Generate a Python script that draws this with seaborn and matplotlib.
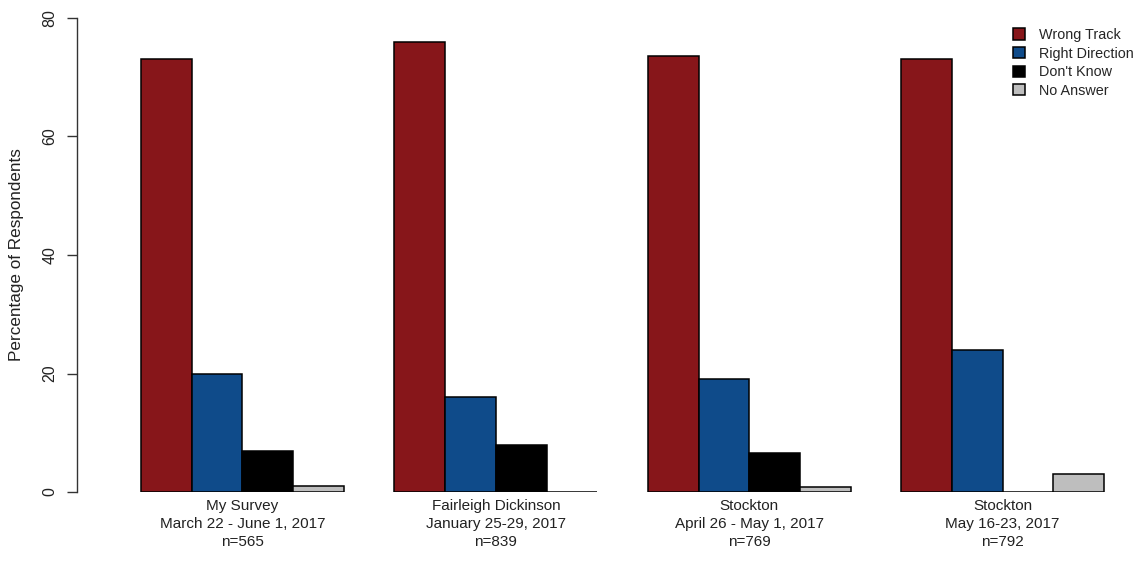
import pandas as pd
import numpy as np
import matplotlib
matplotlib.use('Agg')
import matplotlib.pyplot as plt
import seaborn as sns

# survey groups (x labels) and responses
surveys = ['My Survey\nMarch 22 - June 1, 2017\nn=565',
           'Fairleigh Dickinson\nJanuary 25-29, 2017\nn=839',
           'Stockton\nApril 26 - May 1, 2017\nn=769',
           'Stockton\nMay 16-23, 2017\nn=792']
responses = ['Wrong Track', 'Right Direction', "Don't Know", 'No Answer']

wrong_track = [73, 76, 73.6, 73]
right_direction = [20, 16, 19, 24]
dont_know = [7, 8, 6.5, 0]
no_answer = [1, 0, 0.8, 3]

colors = ['#87161A', '#0F4B8A', '#000000', '#BEBEBE']

rows = []
for i, s in enumerate(surveys):
    for r, vals in zip(responses, [wrong_track, right_direction, dont_know, no_answer]):
        rows.append({'survey': s, 'response': r, 'pct': vals[i]})
df = pd.DataFrame(rows)

sns.set_style('white')
plt.rcParams['font.family'] = ['Liberation Sans', 'DejaVu Sans']

fig = plt.figure(figsize=(11.42, 5.63), dpi=100)
ax = fig.add_axes([77 / 1142, 71 / 563, 1 - 77 / 1142, 474 / 563])

sns.barplot(data=df, x='survey', y='pct', hue='response', order=surveys,
            hue_order=responses, palette=colors, saturation=1,
            edgecolor='black', linewidth=1.1, ax=ax)

ax.set_xlim(-0.653, 3.55)
ax.set_ylim(0, 80)
for side in ['top', 'right', 'bottom']:
    ax.spines[side].set_visible(False)
ax.spines['left'].set_bounds(0, 80)
ax.spines['left'].set_color('#333333')
ax.spines['left'].set_linewidth(1)

ax.set_yticks([0, 20, 40, 60, 80])
ax.set_yticklabels(['0', '20', '40', '60', '80'], rotation=90, va='center')
ax.tick_params(axis='y', length=7, width=1, color='#333333', labelsize=11.5,
               labelcolor='#222222', pad=7, left=True)
ax.tick_params(axis='x', length=0, labelsize=11, labelcolor='#222222', pad=5)
ax.set_xticks(range(len(surveys)))
ax.set_xticklabels(surveys, linespacing=1.38)

ax.set_xlabel('')
ax.set_ylabel('Percentage of Respondents', fontsize=12.3, color='#222222', labelpad=13)

handles, labels = ax.get_legend_handles_labels()
ax.legend(handles, labels, loc='upper left', bbox_to_anchor=(1013 / 1142, 1 - 28 / 563),
          bbox_transform=fig.transFigure, frameon=False, fontsize=10.4,
          handlelength=0.8, handleheight=0.8, handletextpad=1.0,
          labelspacing=0.32, borderaxespad=0, borderpad=0)

fig.savefig('out.png', dpi=100)
